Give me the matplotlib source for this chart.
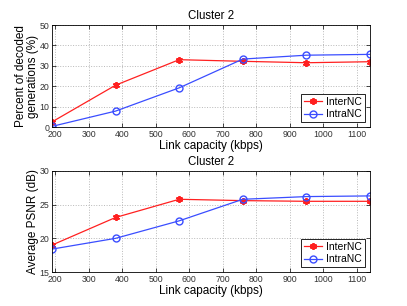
import matplotlib
matplotlib.use('Agg')
import matplotlib.pyplot as plt

plt.rcParams['font.family'] = ['Liberation Sans', 'DejaVu Sans']

capacity = [190, 380, 570, 760, 950, 1140]
decoded_inter = [2.5, 20.5, 33.0, 32.2, 31.5, 32.0]
decoded_intra = [0.3, 7.8, 19.2, 33.3, 35.2, 35.6]
psnr_inter = [19.0, 23.1, 25.8, 25.6, 25.5, 25.5]
psnr_intra = [18.4, 20.0, 22.6, 25.8, 26.2, 26.3]
xticks = [200, 300, 400, 500, 600, 700, 800, 900, 1000, 1100]

fig = plt.figure(figsize=(4.07, 3.06), dpi=100)
ax1 = fig.add_axes([52/407, 1 - 127/306, 318/407, 102/306])
ax2 = fig.add_axes([52/407, 1 - 272/306, 318/407, 101/306])

panels = [
    (ax1, decoded_inter, decoded_intra, (0, 50), [0, 10, 20, 30, 40, 50],
     'Percent of decoded\ngenerations (%)'),
    (ax2, psnr_inter, psnr_intra, (15, 30), [15, 20, 25, 30], 'Average PSNR (dB)'),
]

for ax, inter, intra, ylim, yticks, ylabel in panels:
    ax.plot(capacity, inter, color='#ff2020', marker=(6, 2, 0), markersize=5,
            markeredgewidth=1.3, linewidth=0.9, label='InterNC')
    ax.plot(capacity, intra, color='#3a4dff', marker='o', markersize=5,
            markerfacecolor='none', linewidth=0.9, label='IntraNC')
    ax.set_xlim(190, 1140)
    ax.set_ylim(*ylim)
    ax.set_xticks(xticks)
    ax.set_yticks(yticks)
    ax.grid(True, linestyle=':', color='#b8b8b8', linewidth=0.7)
    ax.tick_params(direction='in', labelsize=6.3, length=3, width=0.5,
                   top=True, right=True, pad=2, labelcolor='#333333')
    for s in ax.spines.values():
        s.set_linewidth(0.6)
    ax.set_title('Cluster 2', fontsize=8.3, pad=4)
    ax.set_xlabel('Link capacity (kbps)', fontsize=8.5, labelpad=1)
    ax.set_ylabel(ylabel, fontsize=8.5, labelpad=0, linespacing=1.0)
    leg = ax.legend(loc='lower right', fontsize=7.5, fancybox=False,
                    edgecolor='black', framealpha=1, borderpad=0.3,
                    handlelength=1.7, handletextpad=0.4, labelspacing=0.2,
                    borderaxespad=0.45)
    leg.get_frame().set_linewidth(0.6)

fig.savefig('out.png', dpi=100)
